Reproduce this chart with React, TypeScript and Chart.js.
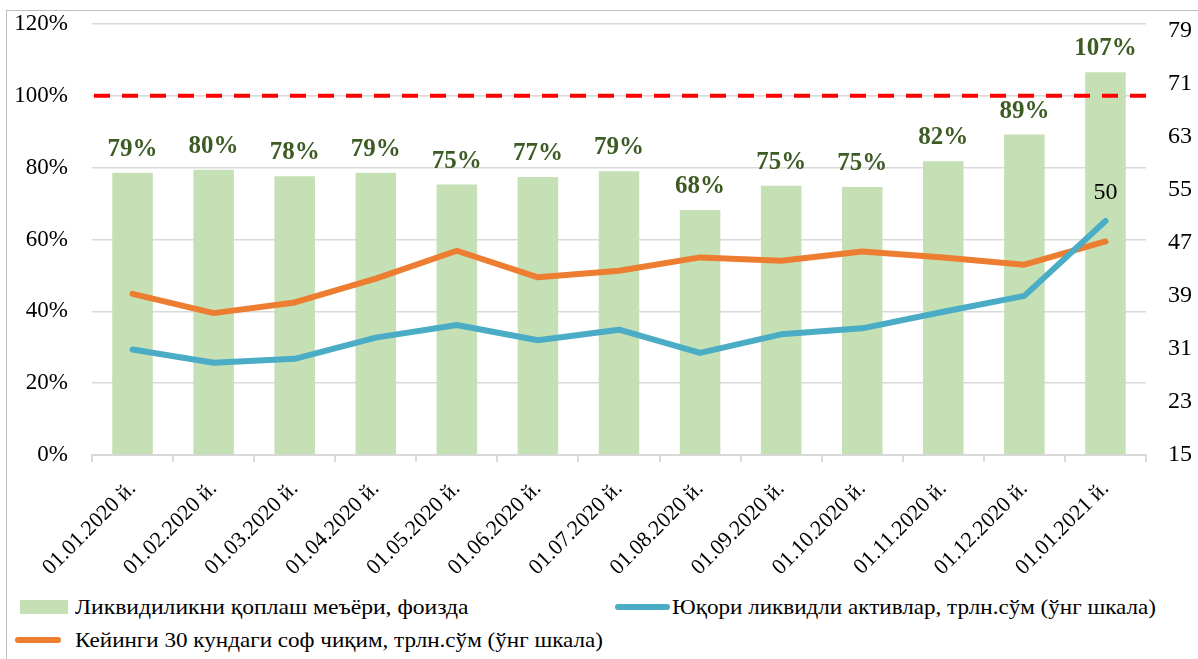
import React, { useEffect, useRef } from "react";
import { Chart, registerables } from "chart.js";

Chart.register(...registerables);

const categories = [
  "01.01.2020 й.",
  "01.02.2020 й.",
  "01.03.2020 й.",
  "01.04.2020 й.",
  "01.05.2020 й.",
  "01.06.2020 й.",
  "01.07.2020 й.",
  "01.08.2020 й.",
  "01.09.2020 й.",
  "01.10.2020 й.",
  "01.11.2020 й.",
  "01.12.2020 й.",
  "01.01.2021 й.",
];

const ratioValues = [78.6, 79.4, 77.6, 78.6, 75.3, 77.4, 79.0, 68.2, 75.0, 74.6, 81.8, 89.2, 106.6];
const ratioLabels = ["79%", "80%", "78%", "79%", "75%", "77%", "79%", "68%", "75%", "75%", "82%", "89%", "107%"];
const hqlaValues = [30.9, 28.9, 29.5, 32.7, 34.6, 32.3, 33.9, 30.4, 33.2, 34.1, 36.6, 39.0, 50.3];
const outflowValues = [39.3, 36.4, 38.0, 41.6, 45.8, 41.8, 42.8, 44.8, 44.3, 45.7, 44.8, 43.7, 47.2];

const leftTicks = [0, 20, 40, 60, 80, 100, 120];
const rightTicks = [15, 23, 31, 39, 47, 55, 63, 71, 79];
const thresholdValue = 100;

const legendRatio = "Ликвидиликни қоплаш меъёри, фоизда";
const legendHqla = "Юқори ликвидли активлар, трлн.сўм (ўнг шкала)";
const legendOutflow = "Кейинги 30 кундаги соф чиқим, трлн.сўм (ўнг шкала)";

const SERIF = "'Liberation Serif', 'Times New Roman', serif";
const GREEN = "#C5E0B4";
const BLUE = "#4BACC6";
const ORANGE = "#ED7D31";
const GRID = "#D9D9D9";

const overlayPlugin = {
  id: "overlay",
  afterDatasetsDraw(chart: any) {
    const ctx = chart.ctx;
    const { left, right } = chart.chartArea;
    const yScale = chart.scales.y;
    const ty = yScale.getPixelForValue(thresholdValue);
    ctx.save();
    ctx.strokeStyle = "#FF0000";
    ctx.lineWidth = 4;
    ctx.setLineDash([16, 12]);
    ctx.beginPath();
    ctx.moveTo(left + 2, ty);
    ctx.lineTo(right, ty);
    ctx.stroke();
    ctx.setLineDash([]);

    const barMeta = chart.getDatasetMeta(2);
    ctx.fillStyle = "#3D5C24";
    ctx.font = `bold 25px ${SERIF}`;
    ctx.textAlign = "center";
    ctx.textBaseline = "alphabetic";
    barMeta.data.forEach((bar: any, i: number) => {
      ctx.fillText(ratioLabels[i], bar.x, bar.y - 17);
    });

    const lineMeta = chart.getDatasetMeta(0);
    const last = lineMeta.data[lineMeta.data.length - 1];
    ctx.fillStyle = "#000000";
    ctx.font = `24px ${SERIF}`;
    ctx.fillText(String(Math.round(hqlaValues[hqlaValues.length - 1])), last.x, last.y - 22);
    ctx.restore();
  },
};

export default function App() {
  const canvasRef = useRef<HTMLCanvasElement | null>(null);

  useEffect(() => {
    if (!canvasRef.current) return;
    const chart = new Chart(canvasRef.current, {
      type: "bar",
      data: {
        labels: categories,
        datasets: [
          {
            type: "line",
            label: legendHqla,
            data: hqlaValues,
            yAxisID: "y1",
            borderColor: BLUE,
            backgroundColor: BLUE,
            borderWidth: 6,
            pointRadius: 0,
            borderCapStyle: "round",
            borderJoinStyle: "round",
            tension: 0,
            order: 1,
          } as any,
          {
            type: "line",
            label: legendOutflow,
            data: outflowValues,
            yAxisID: "y1",
            borderColor: ORANGE,
            backgroundColor: ORANGE,
            borderWidth: 6,
            pointRadius: 0,
            borderCapStyle: "round",
            borderJoinStyle: "round",
            tension: 0,
            order: 2,
          } as any,
          {
            type: "bar",
            label: legendRatio,
            data: ratioValues,
            yAxisID: "y",
            backgroundColor: GREEN,
            borderWidth: 0,
            barPercentage: 0.5,
            categoryPercentage: 1,
            order: 3,
          },
        ],
      },
      options: {
        responsive: false,
        maintainAspectRatio: false,
        animation: false,
        layout: { padding: { top: 13, left: 0, right: 0, bottom: 0 } },
        plugins: {
          legend: { display: false },
          tooltip: { enabled: false },
        },
        scales: {
          x: {
            grid: {
              offset: true,
              drawOnChartArea: false,
              drawTicks: true,
              tickLength: 7,
              color: GRID,
              lineWidth: 2,
            },
            border: { display: true, color: GRID, width: 2 },
            ticks: {
              autoSkip: false,
              maxRotation: 45,
              minRotation: 45,
              padding: 14,
              color: "#000000",
              font: { family: SERIF, size: 22 },
            },
            afterFit(scale: any) {
              scale.height = 131;
              scale.paddingLeft = 0;
              scale.paddingRight = 0;
            },
          },
          y: {
            position: "left",
            min: 0,
            max: 120,
            grid: { color: GRID, lineWidth: 1.5, drawTicks: false },
            border: { display: false },
            ticks: {
              padding: 24,
              color: "#000000",
              font: { family: SERIF, size: 23 },
              callback: (v: any) => `${v}%`,
            },
            afterBuildTicks(scale: any) {
              scale.ticks = leftTicks.map((v) => ({ value: v }));
            },
            afterFit(scale: any) {
              scale.width = 85;
              scale.paddingTop = 0;
              scale.paddingBottom = 0;
            },
          },
          y1: {
            position: "right",
            min: 15,
            max: 80,
            grid: { display: false, drawTicks: false },
            border: { display: false },
            ticks: {
              padding: 22,
              color: "#000000",
              font: { family: SERIF, size: 24 },
            },
            afterBuildTicks(scale: any) {
              scale.ticks = rightTicks.map((v) => ({ value: v }));
            },
            afterFit(scale: any) {
              scale.width = 52;
              scale.paddingTop = 0;
              scale.paddingBottom = 0;
            },
          },
        },
      } as any,
      plugins: [overlayPlugin],
    });
    return () => chart.destroy();
  }, []);

  const textStyle: React.CSSProperties = {
    position: "absolute",
    fontFamily: SERIF,
    fontSize: 21,
    lineHeight: "24px",
    color: "#000",
    whiteSpace: "nowrap",
    transformOrigin: "left center",
    transform: "scaleX(1.1)",
  };

  return (
    <div
      style={{
        position: "absolute",
        left: 6,
        top: 10,
        width: 1198,
        height: 660,
        border: "1px solid #BFBFBF",
        background: "#fff",
        overflow: "hidden",
      }}
    >
      <canvas
        ref={canvasRef}
        width={1191}
        height={575}
        style={{ position: "absolute", left: 0, top: 0, width: 1191, height: 575, display: "block" }}
      />
      <div style={{ position: "absolute", left: 13, top: 589, width: 48, height: 14, background: GREEN }} />
      <div style={{ ...textStyle, left: 68, top: 584, transform: "scaleX(1.125)" }}>{legendRatio}</div>
      <div style={{ position: "absolute", left: 608, top: 593, width: 55, height: 6, borderRadius: 3, background: BLUE }} />
      <div style={{ ...textStyle, left: 665, top: 584 }}>{legendHqla}</div>
      <div style={{ position: "absolute", left: 8, top: 626, width: 46, height: 6, borderRadius: 3, background: ORANGE }} />
      <div style={{ ...textStyle, left: 68, top: 617 }}>{legendOutflow}</div>
    </div>
  );
}
